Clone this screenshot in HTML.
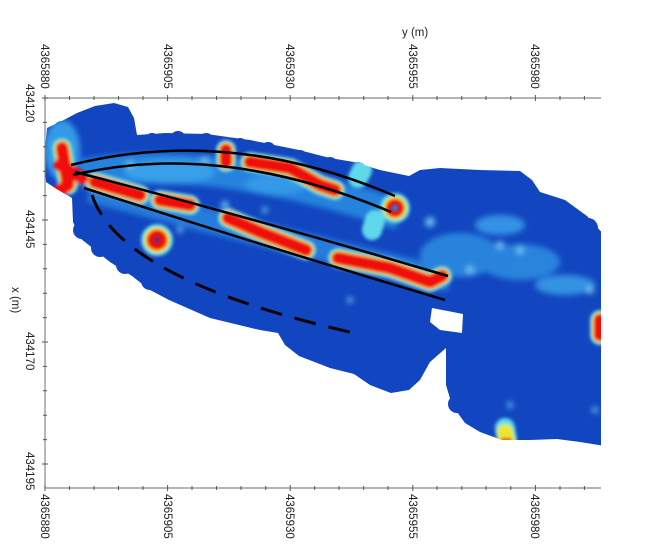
<!DOCTYPE html>
<html><head><meta charset="utf-8"><style>
html,body{margin:0;padding:0;background:#fff;}
svg{display:block;font-family:"Liberation Sans",sans-serif;}
</style></head><body>
<svg width="646" height="546" viewBox="0 0 646 546" xmlns="http://www.w3.org/2000/svg">
<defs>
<clipPath id="plot"><rect x="45" y="98" width="556" height="390"/></clipPath>
<clipPath id="body">
<path d="M44,160 L47,128 L60,122 L77,113 L95,106 L114,103 L128,107 L134,118 L137,135 L165,133 L206,134 L250,140 L299,150 L330,158 L354,162 L380,170 L409,176 L420,170 L440,168 L480,170 L520,171 L532,180 L540,192 L565,200 L587,216 L605,236 L605,446 L580,442 L557,439 L530,440 L502,440 L480,432 L465,423 L452,405 L446,385 L446,348 L430,362 L420,380 L409,390 L391,393 L370,385 L354,374 L330,368 L299,356 L285,345 L278,333 L260,330 L243,326 L210,318 L169,300 L150,290 L132,276 L110,262 L95,250 L80,238 L73,222 L72,198 L55,188 L46,182 Z"/>
<circle cx="62" cy="130" r="9"/><circle cx="90" cy="122" r="10"/><circle cx="112" cy="118" r="10"/><circle cx="126" cy="124" r="9"/>
<circle cx="152" cy="141" r="8"/><circle cx="178" cy="139" r="8"/><circle cx="206" cy="141" r="8"/><circle cx="240" cy="146" r="8"/><circle cx="268" cy="150" r="8"/><circle cx="300" cy="158" r="8"/><circle cx="330" cy="165" r="8"/><circle cx="358" cy="170" r="8"/>
<circle cx="428" cy="182" r="10"/><circle cx="455" cy="180" r="10"/><circle cx="488" cy="182" r="10"/><circle cx="515" cy="184" r="10"/><circle cx="540" cy="203" r="10"/><circle cx="565" cy="213" r="10"/><circle cx="588" cy="228" r="10"/>
<circle cx="82" cy="230" r="9"/><circle cx="100" cy="248" r="9"/><circle cx="125" cy="265" r="9"/><circle cx="150" cy="281" r="9"/><circle cx="175" cy="291" r="9"/><circle cx="205" cy="304" r="9"/><circle cx="235" cy="313" r="9"/><circle cx="262" cy="317" r="9"/><circle cx="290" cy="335" r="9"/><circle cx="312" cy="346" r="9"/><circle cx="335" cy="356" r="9"/><circle cx="360" cy="366" r="9"/><circle cx="385" cy="376" r="9"/><circle cx="405" cy="372" r="9"/>
<circle cx="457" cy="404" r="9"/><circle cx="477" cy="419" r="9"/><circle cx="502" cy="424" r="9"/><circle cx="530" cy="424" r="9"/><circle cx="558" cy="424" r="9"/><circle cx="585" cy="430" r="9"/>
</clipPath>
<filter id="b3"><feGaussianBlur stdDeviation="3"/></filter>
<filter id="b2"><feGaussianBlur stdDeviation="1.5"/></filter>
</defs>
<g clip-path="url(#plot)">
<g clip-path="url(#body)">
<rect x="40" y="95" width="570" height="360" fill="#1246c0"/>
<g filter="url(#b3)" opacity="0.85">
<ellipse cx="62" cy="150" rx="18" ry="30" fill="#3aaaee"/>
<path d="M80,175 Q200,150 400,215" stroke="#2c8fe2" stroke-width="30" fill="none"/>
<path d="M90,190 Q260,235 450,280" stroke="#2a86e0" stroke-width="24" fill="none"/>
<ellipse cx="170" cy="172" rx="45" ry="12" fill="#40b0f0"/>
<ellipse cx="275" cy="185" rx="30" ry="10" fill="#3aa8ee"/>
<ellipse cx="460" cy="255" rx="40" ry="22" fill="#2d8fe2"/>
<ellipse cx="520" cy="262" rx="40" ry="18" fill="#2d8fe2"/>
<ellipse cx="500" cy="225" rx="25" ry="10" fill="#3aa0ea"/>
<ellipse cx="565" cy="285" rx="30" ry="10" fill="#3aa0ea"/>
<circle cx="430" cy="222" r="5" fill="#7ad8f5"/>
<circle cx="520" cy="250" r="4" fill="#7ad8f5"/>
<circle cx="500" cy="245" r="4" fill="#7ad8f5"/>
<circle cx="470" cy="270" r="4" fill="#7ad8f5"/>
<circle cx="590" cy="290" r="4" fill="#7ad8f5"/>
<circle cx="350" cy="300" r="3" fill="#7ad8f5"/>
<circle cx="510" cy="405" r="3" fill="#7ad8f5"/>
<circle cx="595" cy="410" r="3" fill="#7ad8f5"/>
<circle cx="180" cy="230" r="3" fill="#7ad8f5"/>
<circle cx="265" cy="210" r="3" fill="#7ad8f5"/>
<circle cx="130" cy="165" r="4" fill="#7ad8f5"/>
<circle cx="205" cy="160" r="4" fill="#7ad8f5"/>
<circle cx="225" cy="205" r="4" fill="#7ad8f5"/>
</g>
<g filter="url(#b2)" fill="none" stroke-linecap="round" stroke-linejoin="round">
<g stroke="#5fd8ea" stroke-width="20">
<path d="M62,148 L68,185"/><path d="M226,150 L226,162"/><path d="M250,162 L290,168 L320,185 L335,190"/>
<path d="M95,182 L140,195"/><path d="M160,200 L190,205"/><path d="M228,218 L260,232 L306,250"/><path d="M338,258 L390,268 L430,282 L442,276"/>
<circle cx="157" cy="240" r="6"/><circle cx="395" cy="208" r="5"/><path d="M375,220 L372,230"/><path d="M362,170 L358,178"/>
<path d="M505,428 L507,440"/><path d="M600,320 L600,335"/>
</g>
<g stroke="#e8e830" stroke-width="16">
<path d="M62,148 L68,185"/><path d="M226,150 L226,162"/><path d="M250,162 L290,168 L320,185 L335,190"/>
<path d="M95,182 L140,195"/><path d="M160,200 L190,205"/><path d="M228,218 L260,232 L306,250"/><path d="M338,258 L390,268 L430,282 L442,276"/>
<circle cx="157" cy="240" r="5"/><circle cx="395" cy="208" r="4"/><path d="M505,432 L507,440"/><path d="M600,320 L600,335"/>
</g>
<g stroke="#f01010" stroke-width="13">
<path d="M62,148 L68,185 L58,192"/><path d="M60,165 L82,178"/><path d="M226,150 L226,162"/><path d="M250,162 L290,168 L320,185 L335,190"/>
<path d="M95,182 L140,195"/><path d="M160,200 L190,205"/><path d="M228,218 L260,232 L306,250"/><path d="M338,258 L390,268 L430,282 L442,276"/>
<circle cx="157" cy="240" r="4"/><circle cx="395" cy="208" r="3"/><path d="M503,440 L510,440" stroke-width="4"/><path d="M600,320 L600,335"/>
</g>
</g>
<path d="M432,308 L463,314 L462,333 L440,330 L430,322 Z" fill="#fff"/>
</g>
<g fill="none" stroke="#000" stroke-width="2.5">
<path d="M71,165 Q230,125 395,196"/>
<path d="M73,175 Q220,140 391,212"/>
<path d="M75,172 Q260,220 448,276"/>
<path d="M84,188 Q260,245 445,300"/>
<path d="M92,195 Q120,280 354,333" stroke-dasharray="22,13" stroke-width="3"/>
</g>
</g>
<g stroke="#888" stroke-width="1.2" fill="none">
<line x1="45" y1="98" x2="601" y2="98"/>
<line x1="45" y1="488" x2="601" y2="488"/>
<line x1="45" y1="98" x2="45" y2="488"/>
</g>
<g stroke="#555" stroke-width="1">
<path d="M45,95v6M69.5,96v4M94,96v4M118.5,96v4M143,96v4M167.6,95v6M192,96v4M216.6,96v4M241,96v4M265.7,96v4M290.2,95v6M314.7,96v4M339,96v4M363.7,96v4M388,96v4M412.8,95v6M437,96v4M461.8,96v4M486,96v4M510.8,96v4M535.4,95v6M560,96v4M584.4,96v4"/>
<path d="M45,485v6M69.5,486v4M94,486v4M118.5,486v4M143,486v4M167.6,485v6M192,486v4M216.6,486v4M241,486v4M265.7,486v4M290.2,485v6M314.7,486v4M339,486v4M363.7,486v4M388,486v4M412.8,485v6M437,486v4M461.8,486v4M486,486v4M510.8,486v4M535.4,485v6M560,486v4M584.4,486v4"/>
<path d="M42,98h6M43,122.4h4M43,146.8h4M43,171.2h4M43,195.6h4M42,220h6M43,244.4h4M43,268.8h4M43,293.2h4M43,317.6h4M42,342h6M43,366.4h4M43,390.8h4M43,415.2h4M43,439.6h4M42,464h6"/>
</g>
<g font-size="11.5" fill="#222">
<text transform="translate(41,44) rotate(90)">4365880</text>
<text transform="translate(164,44) rotate(90)">4365905</text>
<text transform="translate(286,44) rotate(90)">4365930</text>
<text transform="translate(409,44) rotate(90)">4365955</text>
<text transform="translate(531,44) rotate(90)">4365980</text>
<text transform="translate(41,494) rotate(90)">4365880</text>
<text transform="translate(164,494) rotate(90)">4365905</text>
<text transform="translate(286,494) rotate(90)">4365930</text>
<text transform="translate(409,494) rotate(90)">4365955</text>
<text transform="translate(531,494) rotate(90)">4365980</text>
<text transform="translate(26,84) rotate(90)">434120</text>
<text transform="translate(26,210) rotate(90)">434145</text>
<text transform="translate(26,332) rotate(90)">434170</text>
<text transform="translate(26,452) rotate(90)">434195</text>
<text x="402" y="36">y (m)</text>
<text transform="translate(12,287) rotate(90)">x (m)</text>
</g>
</svg>
</body></html>
